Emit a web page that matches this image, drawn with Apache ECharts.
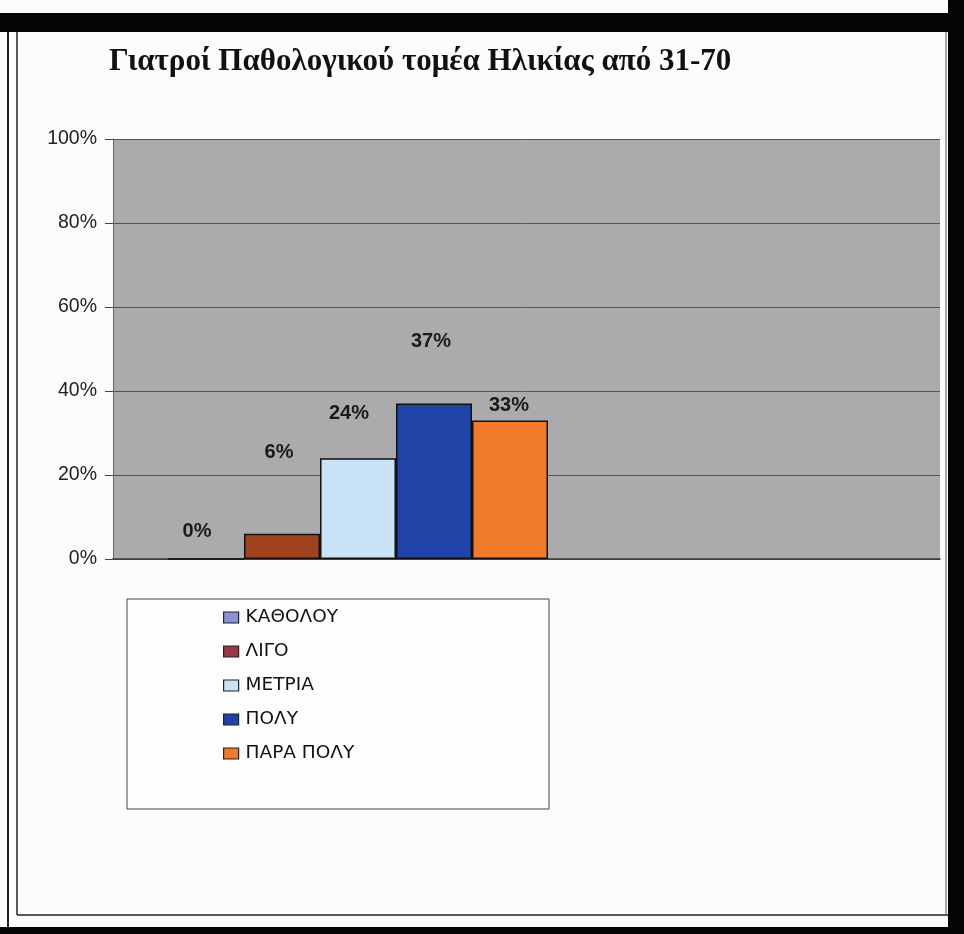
<!DOCTYPE html>
<html>
<head>
<meta charset="utf-8">
<script src="https://cdn.jsdelivr.net/npm/echarts@6/dist/echarts.min.js"></script>
<style>
  html, body { margin: 0; padding: 0; background: #fbfcfd; }
  #chart { width: 964px; height: 934px; }
</style>
</head>
<body>
<div id="chart"></div>
<script>
// Answer categories (one bar each) and their shares in percent
const answers = ['ΚΑΘΟΛΟΥ', 'ΛΙΓΟ', 'ΜΕΤΡΙΑ', 'ΠΟΛΥ', 'ΠΑΡΑ ΠΟΛΥ'];
const shares = [0, 6, 24, 37, 33];
const yTicks = [0, 20, 40, 60, 80, 100];

const barColors = ['#8c8fd8', '#a2431f', '#c9e2f5', '#1f43a6', '#f17a2c'];
const legendColors = ['#8c8fd8', '#9a3646', '#c9e2f5', '#1f43a6', '#f17a2c'];
// label nudges so the percentages sit where they were placed by hand
const labelOffsets = [[-9, -12], [-3, -66], [-9, -30], [-3, -47], [-1, 0]];

const chart = echarts.init(document.getElementById('chart'));

const series = answers.map((name, i) => ({
  name: name,
  type: 'bar',
  xAxisIndex: 1,
  yAxisIndex: 1,
  barGap: '0%',
  barCategoryGap: '0%',
  data: [shares[i]],
  itemStyle: { color: barColors[i], borderColor: '#111', borderWidth: 1.5 },
  label: {
    show: true,
    position: 'top',
    offset: labelOffsets[i],
    formatter: '{c}%',
    fontFamily: 'Liberation Sans, Arial, sans-serif',
    fontWeight: 'bold',
    fontSize: 20,
    color: '#1a1a1a'
  }
}));

chart.setOption({
  animation: false,
  backgroundColor: '#fbfcfd',
  title: {
    text: 'Γιατροί Παθολογικού τομέα Ηλικίας από 31-70',
    left: 104,
    top: 41,
    textStyle: {
      fontFamily: 'Liberation Serif, Times New Roman, serif',
      fontWeight: 'bold',
      fontSize: 31,
      color: '#111'
    }
  },
  graphic: [
    // page frame: dark bands and ruled border lines
    { type: 'rect', shape: { x: 0, y: 13, width: 964, height: 19 }, style: { fill: '#050505' } },
    { type: 'rect', shape: { x: 948, y: 0, width: 16, height: 934 }, style: { fill: '#050505' } },
    { type: 'rect', shape: { x: 0, y: 927, width: 964, height: 7 }, style: { fill: '#050505' } },
    { type: 'line', shape: { x1: 8, y1: 32, x2: 8, y2: 927 }, style: { stroke: '#222', lineWidth: 2 } },
    { type: 'line', shape: { x1: 17, y1: 32, x2: 17, y2: 915 }, style: { stroke: '#222', lineWidth: 1.5 } },
    { type: 'line', shape: { x1: 17, y1: 915, x2: 948, y2: 915 }, style: { stroke: '#222', lineWidth: 1.5 } },
    { type: 'line', shape: { x1: 946, y1: 32, x2: 946, y2: 915 }, style: { stroke: '#555', lineWidth: 1 } },
    // legend box
    { type: 'rect', shape: { x: 127, y: 599, width: 422, height: 210 }, style: { fill: '#fdfdfe', stroke: '#444', lineWidth: 1 }, z: 0 }
  ],
  legend: {
    orient: 'vertical',
    left: 223,
    top: 607,
    padding: 0,
    icon: 'rect',
    itemWidth: 15,
    itemHeight: 11,
    itemGap: 13,
    z: 5,
    itemStyle: { borderColor: '#222', borderWidth: 1.2 },
    textStyle: {
      fontFamily: 'DejaVu Sans, Verdana, sans-serif',
      fontSize: 18.5,
      lineHeight: 21,
      color: '#111',
      padding: [0, 0, 0, 2]
    },
    data: answers.map((name, i) => ({ name: name, itemStyle: { color: legendColors[i] } }))
  },
  grid: [
    // plot background with value scale
    { left: 113, right: 24, top: 139, bottom: 375, show: true, backgroundColor: '#ababad', borderWidth: 0 },
    // bar cluster
    { left: 168, right: 416, top: 139, bottom: 375 }
  ],
  xAxis: [
    {
      gridIndex: 0, type: 'category', data: [''],
      axisLine: { show: true, lineStyle: { color: '#3a3a3a', width: 1.5 } },
      axisTick: { show: false }, axisLabel: { show: false }, splitLine: { show: false }
    },
    {
      gridIndex: 1, type: 'category', data: [''], show: false
    }
  ],
  yAxis: [
    {
      gridIndex: 0, type: 'value', min: yTicks[0], max: yTicks[yTicks.length - 1], interval: 20,
      axisLine: { show: true, lineStyle: { color: '#666', width: 1 } },
      axisTick: { show: true, length: 8, lineStyle: { color: '#444' } },
      axisLabel: {
        formatter: '{value}%', margin: 16,
        fontFamily: 'Liberation Sans, Arial, sans-serif', fontSize: 19.5, color: '#222'
      },
      splitLine: { show: true, lineStyle: { color: '#555', width: 1 } }
    },
    {
      gridIndex: 1, type: 'value', min: yTicks[0], max: yTicks[yTicks.length - 1], show: false,
      splitLine: { show: false }
    }
  ],
  series: series
});
</script>
</body>
</html>
